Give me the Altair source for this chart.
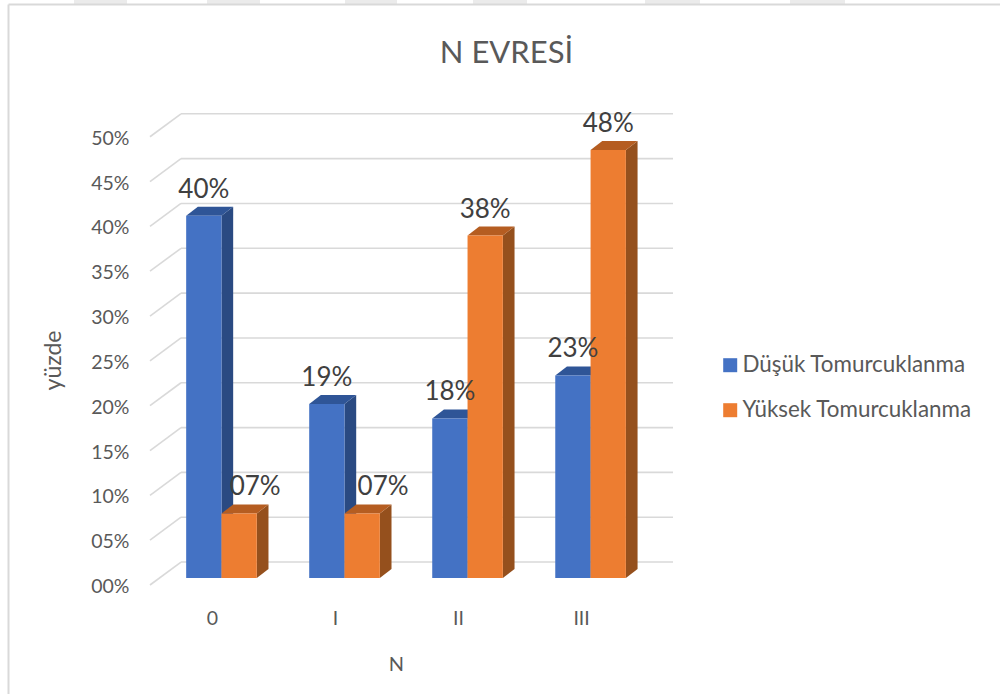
import json

import altair as alt
import pandas as pd

# Chart content
title_text = "N EVRESİ"
categories = ["0", "I", "II", "III"]
series_names = ["Düşük Tomurcuklanma", "Yüksek Tomurcuklanma"]
dusuk = [40.4, 19.4, 17.8, 22.6]
yuksek = [7.2, 7.2, 38.2, 47.75]
grid_levels = [0, 5, 10, 15, 20, 25, 30, 35, 40, 45, 50]

# Colours: front face, side face, top face
blue = ("#4472C4", "#2A4A82", "#2F5597")
orange = ("#ED7D31", "#95501D", "#B55D21")
text_dark = "#404040"
text_grey = "#595959"
grid_grey = "#D9D9D9"

# Pseudo-3D geometry in data units
BAR_W = 0.287
BAR_DX, BAR_DY = 0.095, 1.0
WALL_DX, WALL_DY = 0.252, 2.56
BASE_LIFT = 0.78
# sideways nudge of the two crowded small-value labels
label_nudge = {"Yüksek Tomurcuklanma": [0.13, 0.17, 0.0, 0.0], "Düşük Tomurcuklanma": [0, 0, 0, 0]}

FONT = "Lato"
x_scale = alt.Scale(domain=[-0.581, 3.67], nice=False, zero=False)
y_scale = alt.Scale(domain=[0, 52.65], nice=False, zero=False)


def front_rows():
    rows = []
    for name, values, shift in ((series_names[0], dusuk, -BAR_W), (series_names[1], yuksek, 0.0)):
        for i, v in enumerate(values):
            left = i + shift
            rows.append({"series": name, "left": left, "right": left + BAR_W,
                         "base": BASE_LIFT, "top": v + BASE_LIFT, "value": v,
                         "label": f"{round(v):02d}%",
                         "label_x": left + BAR_W / 2 + label_nudge[name][i]})
    return pd.DataFrame(rows)


fronts = front_rows()


def side_rows(series):
    rows = []
    for r in fronts[fronts.series == series].itertuples():
        rows.append({"bar": r.left, "x": r.right, "y": r.top, "y2": r.base})
        rows.append({"bar": r.left, "x": r.right + BAR_DX, "y": r.top + BAR_DY, "y2": r.base + BAR_DY})
    return pd.DataFrame(rows)


def top_rows(series):
    rows = []
    for r in fronts[fronts.series == series].itertuples():
        rows.append({"bar": r.left, "y": r.top, "x": r.left, "x2": r.right})
        rows.append({"bar": r.left, "y": r.top + BAR_DY, "x": r.left + BAR_DX, "x2": r.right + BAR_DX})
    return pd.DataFrame(rows)


def faces(series, palette):
    side = alt.Chart(side_rows(series)).mark_area(color=palette[1]).encode(
        x=alt.X("x:Q", scale=x_scale), y=alt.Y("y:Q", scale=y_scale), y2="y2:Q", detail="bar:N")
    top = alt.Chart(top_rows(series)).mark_area(color=palette[2], orient="horizontal").encode(
        y=alt.Y("y:Q", scale=y_scale), x=alt.X("x:Q", scale=x_scale), x2="x2:Q", detail="bar:N")
    return [side, top]


# Back-wall gridlines and the diagonal floor-to-wall segments
x_min, x_max = x_scale.domain
grid = pd.DataFrame({"level": grid_levels})
grid["back"] = grid["level"] + WALL_DY
grid["x0"] = x_min
grid["x1"] = x_min + WALL_DX
grid["x2"] = x_max

label_expr = json.dumps(categories) + "[datum.value]"

diagonals = alt.Chart(grid).mark_rule(color=grid_grey, strokeWidth=1.6).encode(
    x=alt.X("x0:Q", scale=x_scale, axis=alt.Axis(
        values=list(range(len(categories))), labelExpr=label_expr, title="N",
        domain=False, ticks=False, grid=False, labelFont=FONT, labelFontSize=19.5,
        labelColor=text_grey, labelPadding=24, labelOffset=-9.5, labelFlush=False, labelBound=False,
        titleFont=FONT, titleFontSize=20, titleFontWeight="normal", titleColor=text_grey,
        titleX=246, titleY=69, titleAnchor="middle", titleAlign="center")),
    x2="x1:Q",
    y=alt.Y("level:Q", scale=y_scale, axis=alt.Axis(
        values=grid_levels,
        labelExpr="(datum.value < 10 ? '0' : '') + datum.value + '%'",
        title="yüzde", domain=False, ticks=False, grid=False, labelFont=FONT, labelFontSize=19.5,
        labelColor=text_grey, labelPadding=21, labelOffset=1.5, labelFlush=False, labelBound=False,
        titleFont=FONT, titleFontSize=23, titleFontWeight="normal", titleColor=text_grey,
        titleX=-85, titleY=247, titleAnchor="middle", titleAlign="center")),
    y2="back:Q",
)
back_lines = alt.Chart(grid).mark_rule(color=grid_grey, strokeWidth=1.6).encode(
    x=alt.X("x1:Q", scale=x_scale), x2="x2:Q", y=alt.Y("back:Q", scale=y_scale))

front_faces = alt.Chart(fronts).mark_rect().encode(
    x=alt.X("left:Q", scale=x_scale),
    x2="right:Q",
    y=alt.Y("top:Q", scale=y_scale),
    y2="base:Q",
    color=alt.Color("series:N", scale=alt.Scale(domain=series_names, range=[blue[0], orange[0]]),
                    legend=alt.Legend(title=None, orient="none", legendX=569, legendY=241,
                                      symbolType="square", symbolSize=196, symbolStrokeWidth=0,
                                      labelFont=FONT, labelFontSize=22.4, labelColor=text_grey,
                                      labelLimit=300, rowPadding=22, labelOffset=1)),
)

value_labels = alt.Chart(fronts).mark_text(
    font=FONT, fontSize=26, color=text_dark, baseline="alphabetic", dy=-18, align="center"
).encode(x=alt.X("label_x:Q", scale=x_scale), y=alt.Y("top:Q", scale=y_scale), text="label:N")

# Page furniture: thin frame on two sides and the pale stripes above it
frame = [
    alt.Chart().mark_rule(color=grid_grey, strokeWidth=2).encode(
        x=alt.value(-141.5), y=alt.value(-108.5), y2=alt.value(581)),
    alt.Chart().mark_rule(color=grid_grey, strokeWidth=2).encode(
        x=alt.value(-141.5), x2=alt.value(850), y=alt.value(-108.5)),
]
stripe_edges = [(74, 127), (207, 260), (345, 397), (473, 527), (645, 700), (790, 845)]
stripes = [
    alt.Chart().mark_rect(color="#EBEBEB").encode(
        x=alt.value(a - 150), x2=alt.value(b - 150), y=alt.value(-113), y2=alt.value(-109))
    for a, b in stripe_edges
]

chart = alt.layer(
    *stripes, *frame, diagonals, back_lines,
    *faces(series_names[0], blue), *faces(series_names[1], orange),
    front_faces, value_labels,
).properties(
    width=523,
    height=472,
    padding={"left": 150, "top": 113, "right": 327, "bottom": 110},
    autosize=alt.AutoSizeParams(type="none"),
    title=alt.Title(title_text, font=FONT, fontSize=31, fontWeight="normal", color=text_grey,
                    anchor="middle", dx=95, offset=-70),
    background="white",
).configure_view(stroke=None)

chart.save("out.html", embed_options={"renderer": "svg", "actions": False})
